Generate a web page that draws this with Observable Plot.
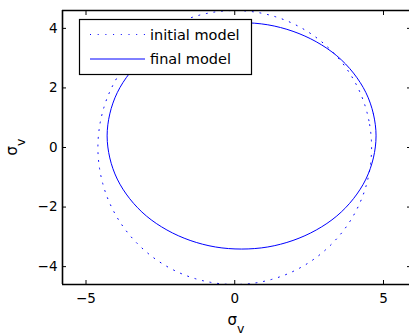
<!DOCTYPE html>
<html><head><meta charset="utf-8">
<script src="https://cdn.jsdelivr.net/npm/d3@7"></script>
<script src="https://cdn.jsdelivr.net/npm/@observablehq/plot@0.6"></script>
<style>
html,body{margin:0;padding:0;overflow:hidden;background:#fff;width:409px;height:335px}
#chart{width:409px;height:335px;overflow:hidden}
#chart svg{max-width:none !important;width:412px !important;height:335px !important}
</style></head><body><div id="chart"></div>
<script>
const xDomain = [-5.79, 5.975];
const yDomain = [-4.6, 4.6];
const xTicks = [-5, 0, 5];
const yTicks = [-4, -2, 0, 2, 4];
const seriesNames = ["initial model", "final model"];
const axisSymbol = "σ";
const axisSub = "v";
// initial model (dotted)
const initialX = [4.6, 4.51, 4.25, 3.82, 3.25, 2.56, 1.76, 0.9, 0, -0.9, -1.76, -2.56, -3.25, -3.82, -4.25, -4.51,
                  -4.6, -4.51, -4.25, -3.82, -3.25, -2.56, -1.76, -0.9, 0, 0.9, 1.76, 2.56, 3.25, 3.82, 4.25, 4.51];
const initialY = [0, 0.9, 1.76, 2.56, 3.25, 3.82, 4.25, 4.51, 4.6, 4.51, 4.25, 3.82, 3.25, 2.56, 1.76, 0.9,
                  0, -0.9, -1.76, -2.56, -3.25, -3.82, -4.25, -4.51, -4.6, -4.51, -4.25, -3.82, -3.25, -2.56, -1.76, -0.9];
// final model (solid)
const finalX = [4.75, 4.66, 4.41, 3.99, 3.43, 2.74, 1.96, 1.11, 0.23, -0.65, -1.5, -2.28, -2.97, -3.53, -3.95, -4.2,
                -4.29, -4.2, -3.95, -3.53, -2.97, -2.28, -1.5, -0.65, 0.23, 1.11, 1.96, 2.74, 3.43, 3.99, 4.41, 4.66];
const finalY = [0.39, 1.13, 1.84, 2.5, 3.08, 3.55, 3.9, 4.12, 4.19, 4.12, 3.9, 3.55, 3.08, 2.5, 1.84, 1.13,
                0.39, -0.35, -1.06, -1.72, -2.3, -2.77, -3.12, -3.34, -3.41, -3.34, -3.12, -2.77, -2.3, -1.72, -1.06, -0.35];

const initial = initialX.map((x, i) => ({x, y: initialY[i]}));
const final = finalX.map((x, i) => ({x, y: finalY[i]}));
const fmt = d => d < 0 ? "\u2212" + Math.abs(d) : String(d);
const font = "'DejaVu Sans', Verdana, sans-serif";
const dots = "1,6.7";

const plot = Plot.plot({
  width: 412, height: 335,
  marginLeft: 62, marginTop: 10, marginBottom: 51, marginRight: 0,
  style: {fontFamily: font, fontSize: "13.5px", color: "black", background: "white", overflow: "visible"},
  x: {domain: xDomain},
  y: {domain: yDomain},
  marks: [
    Plot.line(initial, {x: "x", y: "y", curve: "catmull-rom-closed", stroke: "blue", strokeWidth: 1, strokeDasharray: dots}),
    Plot.line(final, {x: "x", y: "y", curve: "catmull-rom-closed", stroke: "blue", strokeWidth: 1}),
    Plot.axisX({anchor: "bottom", ticks: xTicks, tickSize: -4, tickPadding: 13, label: null, tickFormat: fmt}),
    Plot.axisX({anchor: "top", ticks: xTicks, tickSize: -4, label: null, tickFormat: () => ""}),
    Plot.axisY({anchor: "left", ticks: yTicks, tickSize: -4, tickPadding: 9, label: null, tickFormat: fmt}),
    Plot.axisY({anchor: "right", ticks: yTicks, tickSize: -6, label: null, tickFormat: () => ""}),
    Plot.ruleY(yDomain, {stroke: "black", strokeWidth: 1.6}),
    Plot.ruleX([xDomain[0]], {stroke: "black", strokeWidth: 1.6})
  ]
});
plot.style.maxWidth = "none";
plot.style.width = "412px";
document.getElementById("chart").appendChild(plot);

const svg = d3.select(plot);
// axis labels
const xl = svg.append("text").attr("x", 236).attr("y", 325).attr("text-anchor", "middle")
  .attr("font-family", font).attr("font-size", 15).attr("fill", "black");
xl.append("tspan").text(axisSymbol);
xl.append("tspan").attr("font-size", 12.5).attr("dy", 8).text(axisSub);
const yl = svg.append("text").attr("transform", "translate(17,147) rotate(-90)").attr("text-anchor", "middle")
  .attr("font-family", font).attr("font-size", 15).attr("fill", "black");
yl.append("tspan").text(axisSymbol);
yl.append("tspan").attr("font-size", 12.5).attr("dy", 8).text(axisSub);

// legend
const lg = svg.append("g").attr("text-anchor", "start");
lg.append("rect").attr("x", 79.5).attr("y", 19.5).attr("width", 172).attr("height", 55)
  .attr("fill", "white").attr("stroke", "black").attr("stroke-width", 1.2);
const rows = [{name: seriesNames[0], y: 34.5, dash: dots}, {name: seriesNames[1], y: 59, dash: null}];
rows.forEach(r => {
  lg.append("line").attr("x1", 90).attr("x2", 145).attr("y1", r.y).attr("y2", r.y)
    .attr("stroke", "blue").attr("stroke-width", 1).attr("stroke-dasharray", r.dash);
  lg.append("text").attr("x", 150).attr("y", r.y).attr("dy", "0.35em").attr("text-anchor", "start")
    .attr("font-family", font).attr("font-size", 14.5).attr("fill", "black").text(r.name);
});
</script></body></html>
